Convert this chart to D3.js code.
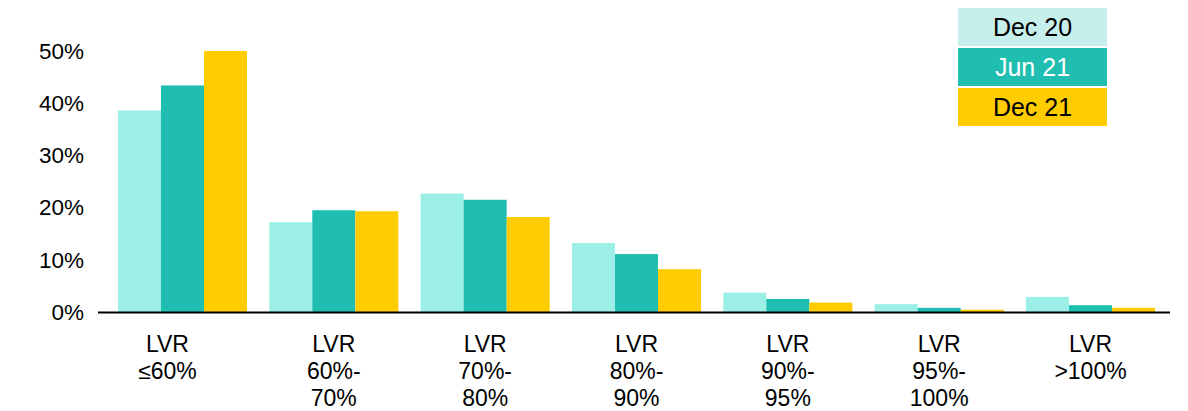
<!DOCTYPE html>
<html>
<head>
<meta charset="utf-8">
<script src="https://cdn.jsdelivr.net/npm/d3@7"></script>
<style>
  html, body { margin: 0; padding: 0; background: #ffffff; }
  svg { display: block; font-family: "Liberation Sans", Arial, sans-serif; }
</style>
</head>
<body>
<svg id="chart" width="1188" height="411"></svg>
<script>
// ---- data ----
const categories = [
  ["LVR", "\u226460%"],
  ["LVR", "60%-", "70%"],
  ["LVR", "70%-", "80%"],
  ["LVR", "80%-", "90%"],
  ["LVR", "90%-", "95%"],
  ["LVR", "95%-", "100%"],
  ["LVR", ">100%"]
];
const seriesNames = ["Dec 20", "Jun 21", "Dec 21"];
const dec20 = [38.6, 17.2, 22.7, 13.2, 3.7, 1.5, 2.9];
const jun21 = [43.4, 19.5, 21.5, 11.1, 2.5, 0.8, 1.3];
const dec21 = [50.0, 19.3, 18.2, 8.2, 1.8, 0.45, 0.8];
const yTicks = [0, 10, 20, 30, 40, 50];

// ---- styles ----
const barColors = ["#9cefe7", "#1fbeb0", "#ffcc00"];
const legendFill = ["#c6eeeb", "#1fbeb0", "#ffcc00"];
const legendText = ["#000000", "#ffffff", "#000000"];

const svg = d3.select("#chart");
const values = [dec20, jun21, dec21];

const x = d3.scaleBand()
  .domain(d3.range(categories.length))
  .range([106.8, 1166.2])
  .paddingInner(0.147)
  .paddingOuter(0.0735);

const xs = d3.scaleBand()
  .domain(d3.range(seriesNames.length))
  .range([0, x.bandwidth()]);

const y = d3.scaleLinear().domain([0, 50]).range([312, 51]);

// y axis labels
const yAxis = d3.axisLeft(y)
  .tickValues(yTicks)
  .tickFormat(d => d + "%")
  .tickSize(0)
  .tickPadding(0);
const yg = svg.append("g").attr("transform", "translate(84,0)").call(yAxis);
yg.select(".domain").remove();
yg.selectAll("text")
  .attr("font-size", 22.5)
  .attr("font-family", "Liberation Sans, Arial, sans-serif")
  .attr("fill", "#000");

// bars
const groups = svg.append("g").selectAll("g")
  .data(categories.map((c, i) => i))
  .join("g")
  .attr("transform", i => `translate(${x(i)},0)`);

groups.selectAll("rect")
  .data(i => values.map((s, k) => ({ k, v: s[i] })))
  .join("rect")
  .attr("x", d => xs(d.k))
  .attr("width", xs.bandwidth())
  .attr("y", d => y(d.v))
  .attr("height", d => y(0) - y(d.v))
  .attr("fill", d => barColors[d.k]);

// x axis line
svg.append("line")
  .attr("x1", 98).attr("x2", 1170)
  .attr("y1", y(0) + 0.5).attr("y2", y(0) + 0.5)
  .attr("stroke", "#000").attr("stroke-width", 2);

// category labels
const cx = i => x(i) + x.bandwidth() / 2 - (i === 0 ? 15 : 0);
const lab = svg.append("g").selectAll("text")
  .data(categories)
  .join("text")
  .attr("x", (d, i) => cx(i))
  .attr("y", 352)
  .attr("text-anchor", "middle")
  .attr("font-size", 23)
  .attr("fill", "#000");
lab.each(function(d, i) {
  const t = d3.select(this);
  d.forEach((line, j) => {
    t.append("tspan")
      .attr("x", cx(i))
      .attr("dy", j === 0 ? 0 : 27)
      .text(line);
  });
});

// legend
const lg = svg.append("g").attr("transform", "translate(958,8)");
const li = lg.selectAll("g").data(seriesNames).join("g")
  .attr("transform", (d, i) => `translate(0,${i * 40})`);
li.append("rect")
  .attr("width", 149).attr("height", 38)
  .attr("fill", (d, i) => legendFill[i]);
li.append("text")
  .attr("x", 74.5).attr("y", 19)
  .attr("dy", "0.35em")
  .attr("text-anchor", "middle")
  .attr("font-size", 25)
  .attr("fill", (d, i) => legendText[i])
  .text(d => d);
</script>
</body>
</html>
